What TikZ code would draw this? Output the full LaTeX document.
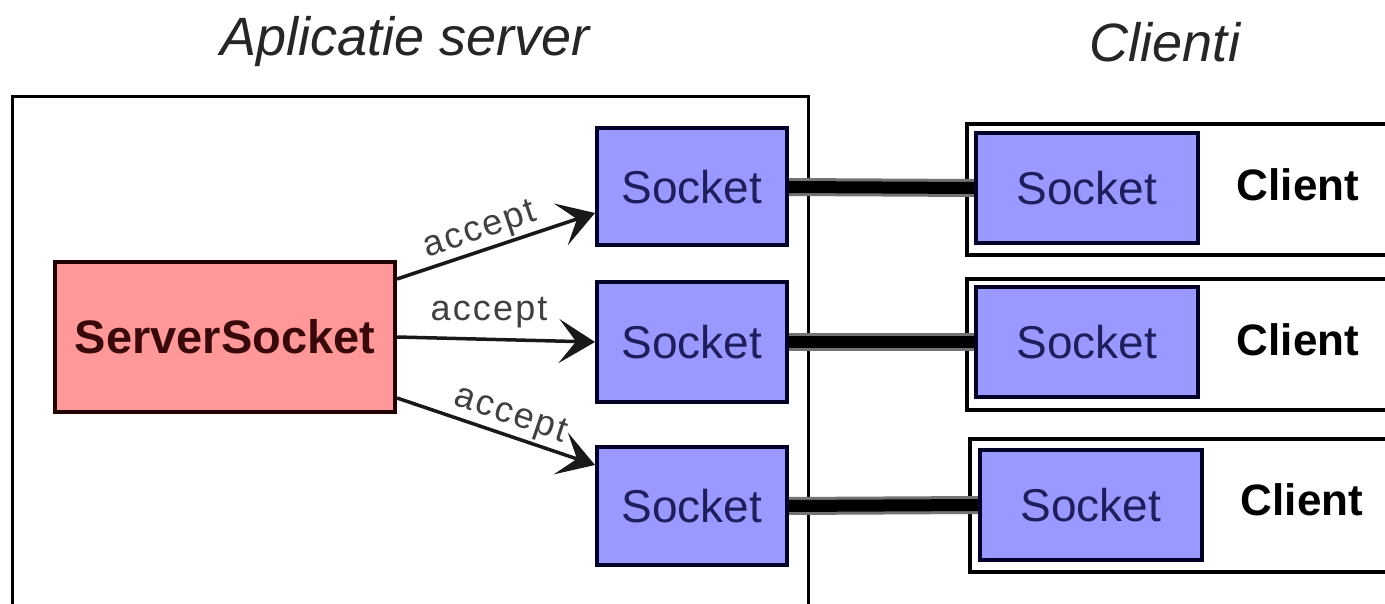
\documentclass[tikz,border=0pt]{standalone}
\usepackage{fontspec}
\setmainfont{Liberation Sans}
\usetikzlibrary{arrows.meta,calc}
\definecolor{salmon}{HTML}{FF9999}
\definecolor{sockblue}{HTML}{9999FF}
\definecolor{sockink}{HTML}{1E1E5E}
\definecolor{sockedge}{HTML}{000028}
\definecolor{ssink}{HTML}{3A0808}
\definecolor{ssedge}{HTML}{200000}
\begin{document}
\begin{tikzpicture}[x=1pt,y=-1pt,
  sock/.style={draw=sockedge, line width=4pt, fill=sockblue, text=sockink,
    font=\fontsize{46}{50}\selectfont, inner sep=0pt, minimum width=190pt},
  csock/.style={sock, minimum width=222pt, minimum height=110pt},
  srvsock/.style={draw=ssedge, line width=4pt, fill=salmon, text=ssink,
    font=\fontsize{47}{50}\selectfont\bfseries, inner sep=0pt,
    minimum width=340pt, minimum height=150pt},
  container/.style={draw=black, line width=3pt, anchor=north west, inner sep=0pt},
  clientbox/.style={container, line width=4pt, minimum width=440pt},
  title/.style={font=\fontsize{54}{60}\selectfont\itshape, text=black!85},
  clientlab/.style={font=\fontsize{44}{50}\selectfont\bfseries, text=black},
  acc/.style={line width=3.5pt, draw=black!90, -{Stealth[length=36pt,width=44pt,inset=17pt]}},
  lab/.style={font=\fontsize{36}{40}\selectfont\addfontfeature{LetterSpace=6}, text=black!75, inner sep=2pt},
  wire/.style={line width=3pt, draw=black!55, double=black, double distance=12pt}
]
\useasboundingbox (0,0) rectangle (1385,604);
\clip (0,0) rectangle (1385,604);
\fill[white] (0,0) rectangle (1385,604);

% titles
\node[title] (t1) at (405,42) {Aplicatie server};
\node[title] (t2) at (1165,42) {Clienti};

% containers
\node[container, minimum width=796pt, minimum height=540pt] (srv) at (11,95) {};
\node[clientbox, minimum height=131pt] (cb1) at (965,122) {};
\node[clientbox, minimum height=131pt] (cb2) at (965,277) {};
\node[clientbox, minimum height=133pt] (cb3) at (968,437) {};

% server side
\node[srvsock] (ss) at (225,337) {ServerSocket};
\node[sock, minimum height=117pt] (s1) at (692,187) {Socket};
\node[sock, minimum height=119pt] (s2) at (692,342) {Socket};
\node[sock, minimum height=118pt] (s3) at (692,506) {Socket};

% client side
\node[csock] (cs1) at (1087,188) {Socket};
\node[csock] (cs2) at (1087,342) {Socket};
\node[csock] (cs3) at (1091,505) {Socket};
\node[clientlab] (cl1) at (1298,185) {Client};
\node[clientlab] (cl2) at (1298,340) {Client};
\node[clientlab] (cl3) at (1302,500) {Client};

% accept arrows
\draw[acc] ([yshift=58pt]ss.east) -- node[lab, sloped, above, pos=0.45] {accept} ([yshift=-26pt]s1.west);
\draw[acc] (ss.east) -- node[lab, above=8pt, pos=0.465] {accept} (s2.west);
\draw[acc] ([yshift=-61pt]ss.east) -- node[lab, sloped, above, pos=0.54] {accept} ([yshift=41pt]s3.west);

% connections
\draw[wire] (s1.east) -- (cs1.west);
\draw[wire] (s2.east) -- (cs2.west);
\draw[wire] (s3.east) -- (cs3.west);
\end{tikzpicture}
\end{document}
